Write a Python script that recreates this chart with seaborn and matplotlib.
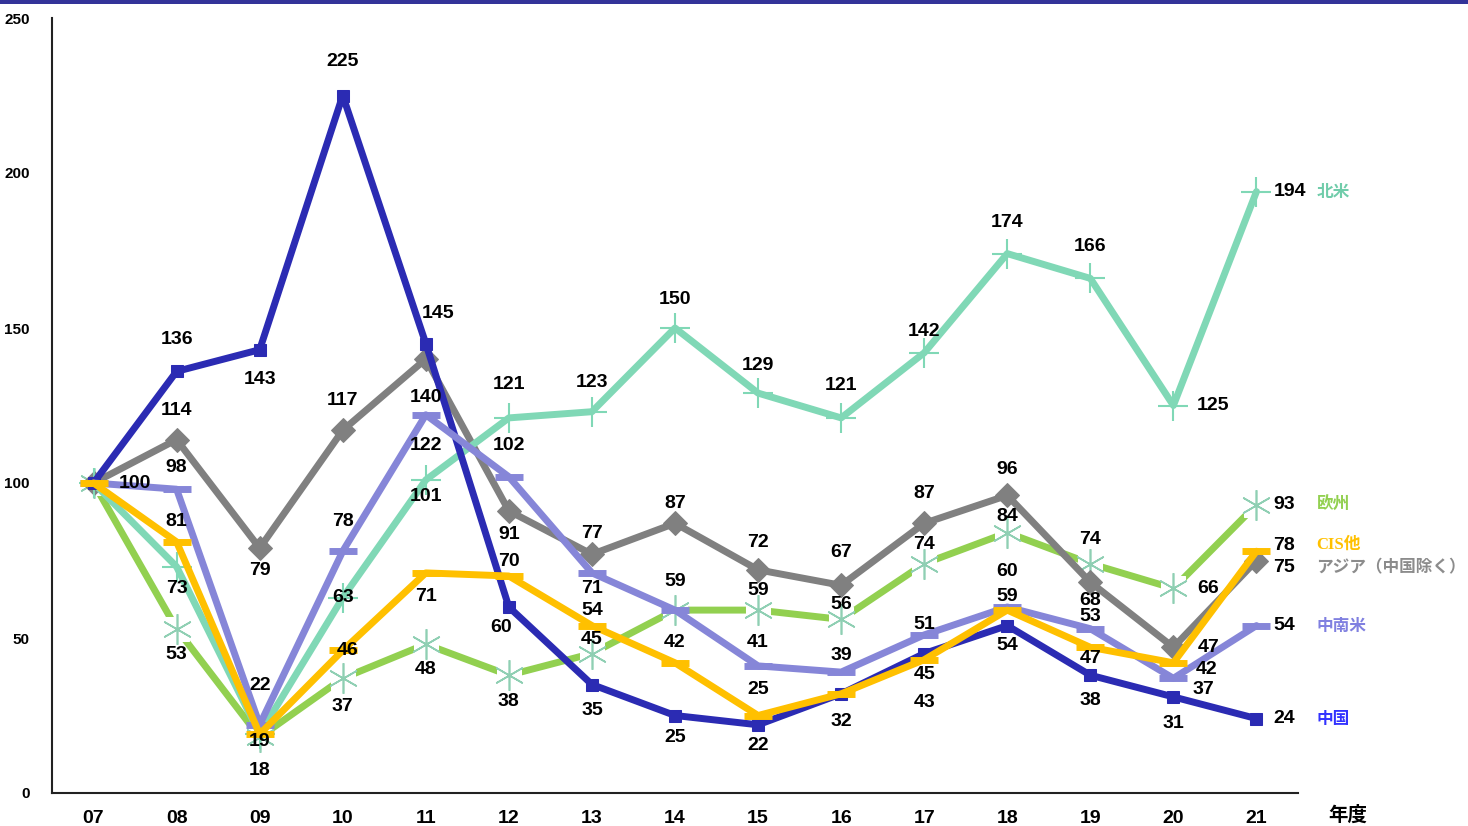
import numpy as np
import pandas as pd
import seaborn as sns
import matplotlib.pyplot as plt
from matplotlib.patches import Rectangle

# 年度
years = ['07', '08', '09', '10', '11', '12', '13', '14', '15', '16', '17', '18', '19', '20', '21']

# 各地域の指数 (07年度=100)
china = [100, 136, 143, 225, 145, 60, 35, 25, 22, 32, 45, 54, 38, 31, 24]
north_america = [100, 73, 19, 63, 101, 121, 123, 150, 129, 121, 142, 174, 166, 125, 194]
europe = [100, 53, 18, 37, 48, 38, 45, 59, 59, 56, 74, 84, 74, 66, 93]
cis = [100, 81, 19, 46, 71, 70, 54, 42, 25, 32, 43, 59, 47, 42, 78]
asia = [100, 114, 79, 117, 140, 91, 77, 87, 72, 67, 87, 96, 68, 47, 75]
latam = [100, 98, 22, 78, 122, 102, 71, 59, 41, 39, 51, 60, 53, 37, 54]

names = ['欧州', 'アジア（中国除く）', '北米', '中国', '中南米', 'CIS他']
values = [europe, asia, north_america, china, latam, cis]

# ラベル位置 (dx, dy) ピクセル (dy は下向きが正), None は表示しない
label_offsets = {
    '中国': [None, (0, -32), (0, 30), (0, -34), (12, -30), (-8, 20), (0, 26), (0, 22),
           (0, 21), (0, 28), (0, 21), (0, 20), (0, 25), (0, 27), None],
    '北米': [None, (0, 22), None, (0, 0), (0, 17), (0, -33), (0, -29), (0, -29),
           (0, -28), (0, -32), (0, -21), (0, -31), (0, -32), (40, 0), None],
    '欧州': [None, (0, 26), (0, 33), (0, 28), (0, 25), (0, 26), (0, -14), (0, -29),
           (0, -20), (0, -15), (0, -19), (0, -16), (0, -24), (35, 0), None],
    'CIS他': [None, (0, -20), (0, 7), (5, 0), (0, 24), (0, -14), (0, -15), (0, -20),
            (0, -26), None, (0, 43), (0, -14), (0, 11), (33, 7), None],
    'アジア（中国除く）': [None, (0, -29), (0, 22), (0, -30), (0, 38), (0, 24), (0, -21), (0, -20),
                  (0, -27), (0, -33), (0, -30), (0, -26), (0, 18), (35, 0), None],
    '中南米': [(41, 0), (0, -22), (0, -39), (0, -30), (0, 31), (0, -31), (0, 16), None,
            (0, -23), (0, -17), (0, -10), (0, -35), (0, -12), (30, 11), None],
}
# 右端の値と地域名の位置 (dy, 下向きが正)
end_dy = {'北米': 0, '欧州': 0, 'CIS他': -6, 'アジア（中国除く）': 7, '中南米': 0, '中国': 0}

colors = {'中国': '#2b2bb3', '北米': '#80d8b6', '欧州': '#92d050', 'CIS他': '#ffc000',
          'アジア（中国除く）': '#808080', '中南米': '#8686d8'}
name_colors = {'中国': '#3333ff', '北米': '#70ccaa', '欧州': '#92d050', 'CIS他': '#ffc000',
               'アジア（中国除く）': '#8c8c8c', '中南米': '#8080e0'}

rows = []
for n, v in zip(names, values):
    for i, val in enumerate(v):
        rows.append({'x': i, 'year': years[i], 'region': n, 'value': val})
df = pd.DataFrame(rows)

sns.set_style('white')
plt.rcParams['font.family'] = ['Liberation Sans', 'Noto Sans CJK JP']
plt.rcParams['text.color'] = 'black'
plt.rcParams['xtick.color'] = 'black'
plt.rcParams['ytick.color'] = 'black'

fig = plt.figure(figsize=(14.68, 8.26), dpi=100)
ax = fig.add_axes([52 / 1468, 33 / 826, 1246 / 1468, 775 / 826])

for k, n in enumerate(names):
    d = df[df['region'] == n]
    c = colors[n]
    z = 2 + k
    if n == '欧州':
        sns.lineplot(data=d, x='x', y='value', ax=ax, color=c, lw=5, zorder=z,
                     marker='s', markersize=17, markerfacecolor='white', markeredgecolor='white')
        sns.lineplot(data=d, x='x', y='value', ax=ax, color='#8fcfb3', lw=0, zorder=z,
                     marker=(6, 2, 0), markersize=22, markeredgewidth=1.2, markeredgecolor='#8fcfb3')
    elif n == '北米':
        sns.lineplot(data=d, x='x', y='value', ax=ax, color=c, lw=5, zorder=z,
                     marker='+', markersize=22, markeredgewidth=1.5, markeredgecolor=c)
    elif n == '中国':
        sns.lineplot(data=d, x='x', y='value', ax=ax, color=c, lw=5, zorder=z,
                     marker='s', markersize=9, markeredgecolor=c, markerfacecolor=c)
    elif n == 'アジア（中国除く）':
        sns.lineplot(data=d, x='x', y='value', ax=ax, color=c, lw=5, zorder=z,
                     marker='D', markersize=12, markeredgecolor=c, markerfacecolor=c)
    else:
        sns.lineplot(data=d, x='x', y='value', ax=ax, color=c, lw=5, zorder=z,
                     marker='_', markersize=20, markeredgewidth=5, markeredgecolor=c)

# データラベル
for n, v in zip(names, values):
    for i, val in enumerate(v):
        off = label_offsets[n][i]
        if off is None:
            continue
        ax.annotate(str(val), (i, val), xytext=(off[0], -off[1]), textcoords='offset pixels',
                    ha='center', va='center', fontsize=14, fontweight='bold', zorder=20)
    last = len(v) - 1
    dy = end_dy[n]
    ax.annotate(str(v[last]), (last, v[last]), xytext=(17, -dy), textcoords='offset pixels',
                ha='left', va='center', fontsize=14, fontweight='bold', zorder=20)
    fam = ['Liberation Serif', 'Noto Sans CJK JP'] if n == 'CIS他' else ['Noto Sans CJK JP']
    ax.annotate(n, (last, v[last]), xytext=(60, -dy), textcoords='offset pixels',
                ha='left', va='center', fontsize=12, fontweight='bold',
                color=name_colors[n], family=fam, zorder=20)

ax.set_xlim(-0.5, 14.5)
ax.set_ylim(0, 250)
ax.set_xticks(range(len(years)))
ax.set_xticklabels(years, fontsize=14, fontweight='bold')
ax.set_xticks(np.arange(-0.5, 15, 1), minor=True)
ax.tick_params(axis='x', which='major', length=0, pad=12)
ax.tick_params(axis='x', which='minor', direction='in', length=6, width=1.2, color='#222222')
ax.set_yticks(range(0, 251, 50))
ax.tick_params(axis='y', direction='out', length=4, width=1.2, pad=12, labelsize=11, color='#222222')
for t in ax.get_yticklabels():
    t.set_fontweight('bold')
ax.set_xlabel('')
ax.set_ylabel('')
for s in ['top', 'right']:
    ax.spines[s].set_visible(False)
for s in ['left', 'bottom']:
    ax.spines[s].set_color('#222222')
    ax.spines[s].set_linewidth(1.5)
ax.grid(False)

fig.text(1348 / 1468, 1 - 815 / 826, '年度', fontsize=14, fontweight='bold',
         ha='center', va='center', family=['Noto Sans CJK JP'])
fig.add_artist(Rectangle((0, 1 - 4 / 826), 1, 4 / 826, transform=fig.transFigure,
                         color='#333399', lw=0))

fig.savefig('out.png', dpi=100)
